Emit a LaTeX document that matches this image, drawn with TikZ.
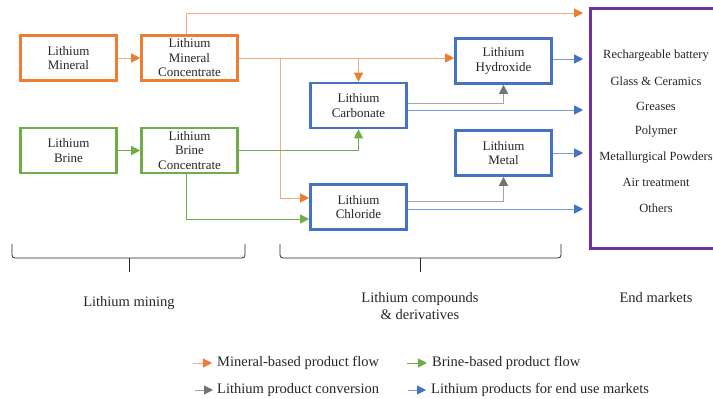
\documentclass[tikz,border=0pt]{standalone}
\usepackage{fontspec}
\setmainfont{Liberation Serif}
\usetikzlibrary{arrows.meta,positioning}

\definecolor{minor}{HTML}{ED7D31}
\definecolor{minline}{HTML}{F4A97A}
\definecolor{brine}{HTML}{70AD47}
\definecolor{prod}{HTML}{4472C4}
\definecolor{prodline}{HTML}{7C9BD6}
\definecolor{conv}{HTML}{767171}
\definecolor{convline}{HTML}{A6A6A6}
\definecolor{market}{HTML}{7030A0}
\definecolor{txt}{HTML}{262626}

\tikzset{
  box/.style = {draw, line width=2.6pt, minimum width=96pt, minimum height=45pt,
                inner sep=1pt, align=center, text=txt,
                font=\fontsize{13}{14.5}\selectfont},
  minbox/.style = {box, draw=minor},
  brinebox/.style = {box, draw=brine},
  prodbox/.style = {box, draw=prod},
  flow/.style = {line width=1pt},
  minflow/.style = {flow, draw=minline, -{Triangle[length=9pt,width=9pt,color=minor]}},
  brineflow/.style = {flow, draw=brine, -{Triangle[length=9pt,width=9pt,color=brine]}},
  convflow/.style = {flow, draw=convline, -{Triangle[length=9pt,width=9pt,color=conv]}},
  prodflow/.style = {flow, draw=prodline, -{Triangle[length=9pt,width=9pt,color=prod]}},
  item/.style = {text=txt, inner sep=0pt, font=\fontsize{12.5}{14}\selectfont},
  label/.style = {text=txt, align=center, inner sep=0pt, font=\fontsize{14.5}{16.5}\selectfont},
  legtext/.style = {label, anchor=west},
  bracket/.style = {draw=txt, line width=0.8pt, rounded corners=3pt}
}

\begin{document}
\begin{tikzpicture}[x=1pt, y=-1pt]
  \clip (0,0) rectangle (713,399);

  % mining
  \node[minbox] (mineral) at (68.5,58) {Lithium\\Mineral};
  \node[minbox] (minconc) at (189.5,58) {Lithium\\Mineral\\Concentrate};
  \node[brinebox] (brine) at (68.5,150.5) {Lithium\\Brine};
  \node[brinebox] (brineconc) at (189.5,150.5) {Lithium\\Brine\\Concentrate};

  % compounds
  \node[prodbox] (carbonate) at (358.5,105.5) {Lithium\\Carbonate};
  \node[prodbox] (chloride) at (358.5,207) {Lithium\\Chloride};
  \node[prodbox] (hydroxide) at (503.5,61) {Lithium\\Hydroxide};
  \node[prodbox] (metal) at (503.5,153) {Lithium\\Metal};

  % end markets
  \node[draw=market, line width=2.6pt, minimum width=150pt, minimum height=240pt]
    (market) at (665.5,128.5) {};
  \foreach \t [count=\i] in {Rechargeable battery, Glass \& Ceramics, Greases, Polymer,
      Metallurgical Powders, Air treatment, Others}
    \node[item] (mk\i) at (656,{56+25.3*(\i-1)}) {\t};

  \coordinate (mtop) at (583,13);
  \coordinate (jchl) at (280,0);
  \coordinate (hydout) at ([yshift=2pt]hydroxide.east);
  \coordinate (carbconv) at ([yshift=2.5pt]carbonate.east);
  \coordinate (carbout) at ([yshift=-4.5pt]carbonate.east);
  \coordinate (chlconv) at ([yshift=6pt]chloride.east);
  \coordinate (chlout) at ([yshift=-2pt]chloride.east);
  \coordinate (chlmin) at ([yshift=9pt]chloride.west);
  \coordinate (chlbrine) at ([yshift=-12pt]chloride.west);

  % mineral flows
  \draw[minflow] (mineral) -- (minconc);
  \draw[minflow] ([xshift=-3pt]minconc.north) |- (mtop);
  \draw[minflow] (minconc.east) -- (hydroxide.west |- minconc.east);
  \draw[minflow] (carbonate.north |- minconc.east) -- (carbonate.north);
  \draw[minflow] (minconc.east -| jchl) |- (chlmin);

  % brine flows
  \draw[brineflow] (brine) -- (brineconc);
  \draw[brineflow] (brineconc.east) -| (carbonate.south);
  \draw[brineflow] ([xshift=-3pt]brineconc.south) |- (chlbrine);

  % conversions
  \draw[convflow] (carbconv) -| (hydroxide.south);
  \draw[convflow] (chlconv) -| (metal.south);

  % to end markets
  \draw[prodflow, shorten >=6pt] (hydout) -- (market.west |- hydout);
  \draw[prodflow, shorten >=6pt] (carbout) -- (market.west |- carbout);
  \draw[prodflow, shorten >=6pt] (metal.east) -- (market.west |- metal.east);
  \draw[prodflow, shorten >=6pt] (chlout) -- (market.west |- chlout);

  % brackets
  \draw[bracket] (12,244) |- (129,258) -| (245,244);
  \draw[bracket] (129,258) -- (129,272);
  \draw[bracket] (280,244) |- (420,258) -| (561,244);
  \draw[bracket] (420,258) -- (420,272);

  \node[label] (mining) at (129,303) {Lithium mining};
  \node[label] (compounds) at (420,306) {Lithium compounds\\\& derivatives};
  \node[label] (endmk) at (656,298) {End markets};

  % legend
  \coordinate (lgA) at (193,363);
  \coordinate (lgB) at (407,363);
  \coordinate (lgC) at (195,390);
  \coordinate (lgD) at (408,390);
  \node[legtext, right=24pt of lgA] (lgmin) {Mineral-based product flow};
  \node[legtext, right=25pt of lgB] (lgbrine) {Brine-based product flow};
  \node[legtext, right=22pt of lgC] (lgconv) {Lithium product conversion};
  \node[legtext, right=23pt of lgD] (lgprod) {Lithium products for end use markets};
  \draw[minflow] (lgA) -- ([xshift=-5pt]lgmin.west);
  \draw[brineflow] (lgB) -- ([xshift=-5pt]lgbrine.west);
  \draw[convflow] (lgC) -- ([xshift=-4pt]lgconv.west);
  \draw[prodflow] (lgD) -- ([xshift=-5pt]lgprod.west);
\end{tikzpicture}
\end{document}
